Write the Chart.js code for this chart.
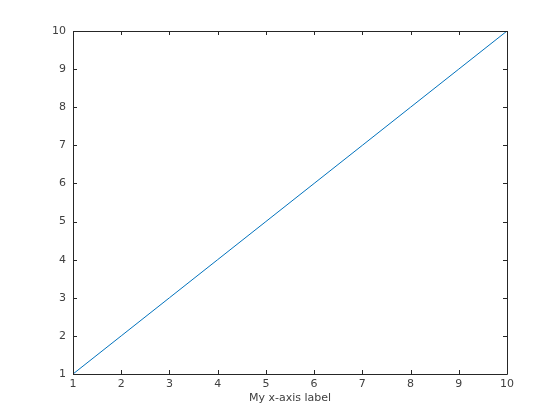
<!DOCTYPE html>
<html lang="en">
<head>
<meta charset="UTF-8">
<title>Line plot</title>
<script src="https://cdn.jsdelivr.net/npm/chart.js"></script>
<style>
  html, body { margin: 0; padding: 0; background: #fff; }
  #wrap { width: 560px; height: 420px; }
</style>
</head>
<body>
<div id="wrap"><canvas id="lineChart" width="560" height="420"></canvas></div>
<script>
// data
var xValues = [1, 2, 3, 4, 5, 6, 7, 8, 9, 10];
var yValues = [1, 2, 3, 4, 5, 6, 7, 8, 9, 10];
var xTicks = [1, 2, 3, 4, 5, 6, 7, 8, 9, 10];
var yTicks = [1, 2, 3, 4, 5, 6, 7, 8, 9, 10];
var xLabel = 'My x-axis label';

var points = xValues.map(function(x, i) { return { x: x, y: yValues[i] }; });

// box around the axes plus inward ticks on all four sides
var boxTicks = {
  id: 'boxTicks',
  afterDraw: function(chart) {
    var ctx = chart.ctx;
    var a = chart.chartArea;
    var xs = chart.scales.x, ys = chart.scales.y;
    ctx.save();
    ctx.strokeStyle = '#262626';
    ctx.lineWidth = 1;
    ctx.beginPath();
    ctx.rect(Math.round(a.left) + 0.5, Math.round(a.top) + 0.5,
             Math.round(a.right - a.left), Math.round(a.bottom - a.top));
    ctx.stroke();
    ctx.beginPath();
    xTicks.forEach(function(v) {
      var px = Math.round(xs.getPixelForValue(v)) + 0.5;
      ctx.moveTo(px, a.bottom); ctx.lineTo(px, a.bottom - 4);
      ctx.moveTo(px, a.top); ctx.lineTo(px, a.top + 4);
    });
    yTicks.forEach(function(v) {
      var py = Math.round(ys.getPixelForValue(v)) + 0.5;
      ctx.moveTo(a.left, py); ctx.lineTo(a.left + 4, py);
      ctx.moveTo(a.right, py); ctx.lineTo(a.right - 4, py);
    });
    ctx.stroke();
    ctx.restore();
  }
};

var font = { family: 'DejaVu Sans', size: 11 };

new Chart(document.getElementById('lineChart'), {
  type: 'line',
  data: {
    datasets: [{
      data: points,
      borderColor: '#0072BD',
      borderWidth: 1,
      pointRadius: 0,
      fill: false,
      tension: 0
    }]
  },
  options: {
    responsive: false,
    animation: false,
    layout: { padding: { top: 31, right: 53, left: 0, bottom: 15 } },
    plugins: { legend: { display: false }, tooltip: { enabled: false } },
    scales: {
      x: {
        type: 'linear', min: 1, max: 10,
        afterBuildTicks: function(s) { s.ticks = xTicks.map(function(v) { return { value: v }; }); },
        afterFit: function(s) { s.height = 31; },
        grid: { display: false, drawTicks: false },
        border: { display: false },
        ticks: { color: '#404040', font: font, padding: 4, maxRotation: 0 },
        title: { display: true, text: xLabel, color: '#404040', font: font, padding: { top: 0, bottom: 0 } }
      },
      y: {
        type: 'linear', min: 1, max: 10,
        afterBuildTicks: function(s) { s.ticks = yTicks.map(function(v) { return { value: v }; }); },
        afterFit: function(s) { s.width = 73; },
        grid: { display: false, drawTicks: false },
        border: { display: false },
        ticks: { color: '#404040', font: font, padding: 7 }
      }
    }
  },
  plugins: [boxTicks]
});
</script>
</body>
</html>
